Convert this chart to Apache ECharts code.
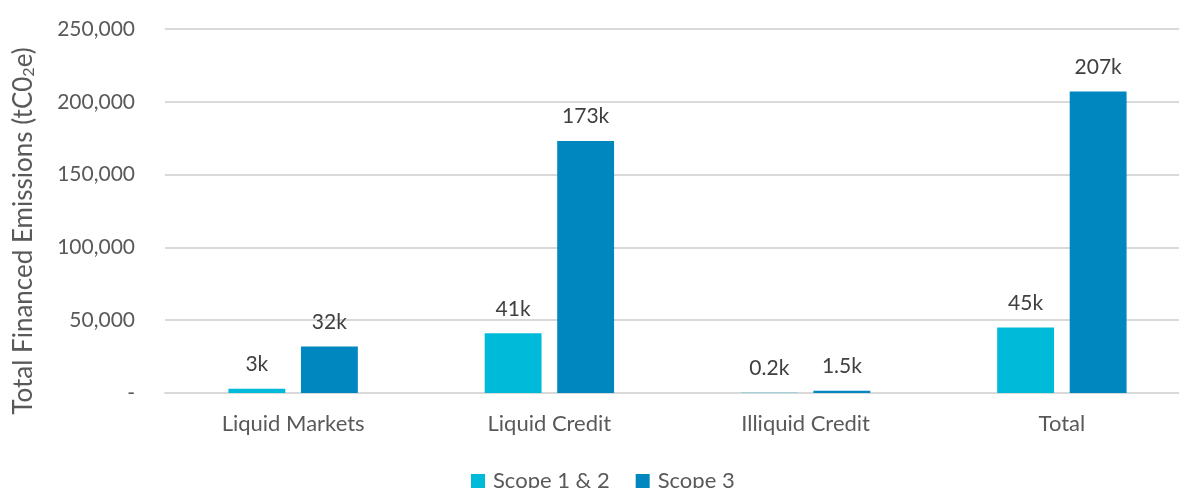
<!DOCTYPE html>
<html>
<head>
<meta charset="utf-8">
<script src="https://cdn.jsdelivr.net/npm/echarts@6/dist/echarts.min.js"></script>
<style>
  html, body { margin: 0; padding: 0; background: #ffffff; overflow: hidden; }
  /* the plot area runs a little past the right edge of the window */
  #chart { width: 1190px; height: 488px; }
</style>
</head>
<body>
<div id="chart"></div>
<script>
// Financed emissions by portfolio segment
const categories = ['Liquid Markets', 'Liquid Credit', 'Illiquid Credit', 'Total'];
const scope12 = [3000, 41000, 200, 45000];
const scope3 = [32000, 173000, 1500, 207000];
const yTicks = { min: 0, max: 250000, interval: 50000 };
const seriesNames = ['Scope 1 & 2', 'Scope 3'];
const axisTitle = 'Total Financed Emissions (tC0{sub|2}e)';

const FONT = 'Lato, "Open Sans", sans-serif';
const GREY = '#595959';

function kLabel(v) {
  return (v / 1000).toString() + 'k';
}

const chart = echarts.init(document.getElementById('chart'), null, { renderer: 'canvas' });

const labelStyle = {
  show: true,
  position: 'top',
  distance: 14,
  fontFamily: FONT,
  fontSize: 21,
  color: '#404040',
  formatter: p => kLabel(p.value)
};

chart.setOption({
  animation: false,
  textStyle: { fontFamily: FONT },
  grid: { left: 165, top: 29, right: 0, bottom: 95, containLabel: false },
  graphic: [
    {
      type: 'text',
      x: 24,
      y: 231,
      rotation: Math.PI / 2,
      style: {
        text: axisTitle,
        fontFamily: FONT,
        fontSize: 26,
        fill: GREY,
        align: 'center',
        verticalAlign: 'middle',
        rich: {
          sub: { fontFamily: FONT, fontSize: 16, fill: GREY, padding: [10, 0, 0, 0] }
        }
      }
    }
  ],
  legend: {
    data: seriesNames,
    top: 465,
    left: 466,
    itemWidth: 14,
    itemHeight: 14,
    itemGap: 26,
    icon: 'rect',
    textStyle: { fontFamily: FONT, fontSize: 22, color: GREY, padding: [0, 0, 0, 3] }
  },
  xAxis: {
    type: 'category',
    data: categories,
    axisLine: { show: true, lineStyle: { color: '#d9d9d9', width: 2 } },
    axisTick: { show: false },
    axisLabel: { fontFamily: FONT, fontSize: 22, color: GREY, margin: 20 }
  },
  yAxis: {
    type: 'value',
    min: yTicks.min,
    max: yTicks.max,
    interval: yTicks.interval,
    axisLine: { show: false },
    axisTick: { show: false },
    splitLine: { lineStyle: { color: '#d9d9d9', width: 2 } },
    axisLabel: {
      fontFamily: FONT,
      fontSize: 21,
      color: GREY,
      margin: 30,
      formatter: v => v === 0 ? '-' : v.toLocaleString('en-US')
    }
  },
  series: [
    {
      name: seriesNames[0],
      type: 'bar',
      data: scope12,
      barGap: '27.5%',
      barCategoryGap: '49.5%',
      itemStyle: { color: '#00BADA' },
      label: labelStyle
    },
    {
      name: seriesNames[1],
      type: 'bar',
      data: scope3,
      itemStyle: { color: '#0087BF' },
      label: labelStyle
    }
  ]
});
</script>
</body>
</html>
